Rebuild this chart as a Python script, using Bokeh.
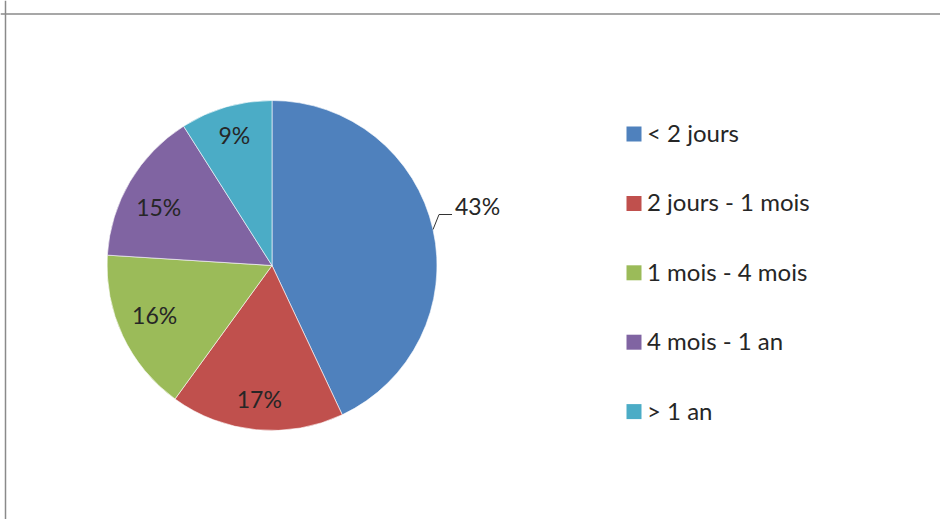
import math
from bokeh.plotting import figure
from bokeh.models import Range1d, Span, ColumnDataSource
from bokeh.core.properties import value
from bokeh.embed import file_html
from bokeh.resources import INLINE

categories = ["< 2 jours", "2 jours - 1 mois", "1 mois - 4 mois", "4 mois - 1 an", "> 1 an"]
shares = [43, 17, 16, 15, 9]
labels = ["43%", "17%", "16%", "15%", "9%"]
colors = ["#4F81BD", "#C0504D", "#9BBB59", "#8064A2", "#4BACC6"]

# label placement style (radius fraction and angle nudge in degrees)
label_r = [1.0, 0.82, 0.775, 0.77, 0.817]
label_nudge = [0.0, 0.0, -1.8, 3.7, 0.0]

W, H = 940, 519
FONT = "Lato"
TXT = "#262626"
FS = "23px"
LFS = "24px"

p = figure(width=W, height=H, output_backend="svg", toolbar_location=None,
           x_range=Range1d(0, W), y_range=Range1d(0, H),
           min_border=0, outline_line_color=None)
p.axis.visible = False
p.grid.visible = False

def sy(y):  # picture y -> data y
    return H - y

cx, cy, R = 271.5, sy(265), 165

total = float(sum(shares))
starts, ends, mids = [], [], []
a = math.pi / 2
for s in shares:
    sweep = 2 * math.pi * s / total
    starts.append(a)
    ends.append(a - sweep)
    mids.append(a - sweep / 2)
    a -= sweep

src = ColumnDataSource(dict(start=starts, end=ends, color=colors))
p.wedge(x=cx, y=cy, radius=R, start_angle="start", end_angle="end",
        direction="clock", fill_color="color", line_color="white",
        line_width=0.6, source=src)

# inside labels
inx, iny, itx = [], [], []
for i, m in enumerate(mids):
    if i == 0:
        continue
    ang = m + math.radians(label_nudge[i])
    inx.append(cx + label_r[i] * R * math.cos(ang))
    iny.append(cy + label_r[i] * R * math.sin(ang) + 1.5)
    itx.append(labels[i])
p.text(x=inx, y=iny, text=itx, text_align="center", text_baseline="middle",
       text_font=value(FONT), text_font_size=FS, text_color=TXT)

# outside label with leader for the first slice
m = mids[0]
ex, ey = cx + R * math.cos(m), cy + R * math.sin(m)
kx, ky = ex + 6, ey + 15
hx = kx + 13
p.line(x=[ex, kx, hx], y=[ey, ky, ky], line_color="#333333", line_width=1)
p.text(x=[hx + 3], y=[ky + 9], text=[labels[0]], text_align="left",
       text_baseline="middle", text_font=value(FONT), text_font_size=FS,
       text_color=TXT)

# legend
lx, ly0, dy = 633.5, sy(133.5), 69.4
lys = [ly0 - i * dy for i in range(len(categories))]
p.scatter(x=[lx] * len(categories), y=lys, marker="square", size=15,
          fill_color=colors, line_color=None)
p.text(x=[lx + 13] * len(categories), y=[v + 1.5 for v in lys], text=categories,
       text_align="left", text_baseline="middle", text_font=value(FONT),
       text_font_size=LFS, text_color=TXT)

# border (top and left visible)
p.add_layout(Span(location=sy(13.5), dimension="width", line_color="#8A8A8A", line_width=1.5))
p.add_layout(Span(location=5, dimension="height", line_color="#8A8A8A", line_width=1.5))

open("out.html", "w").write(file_html(p, INLINE))
